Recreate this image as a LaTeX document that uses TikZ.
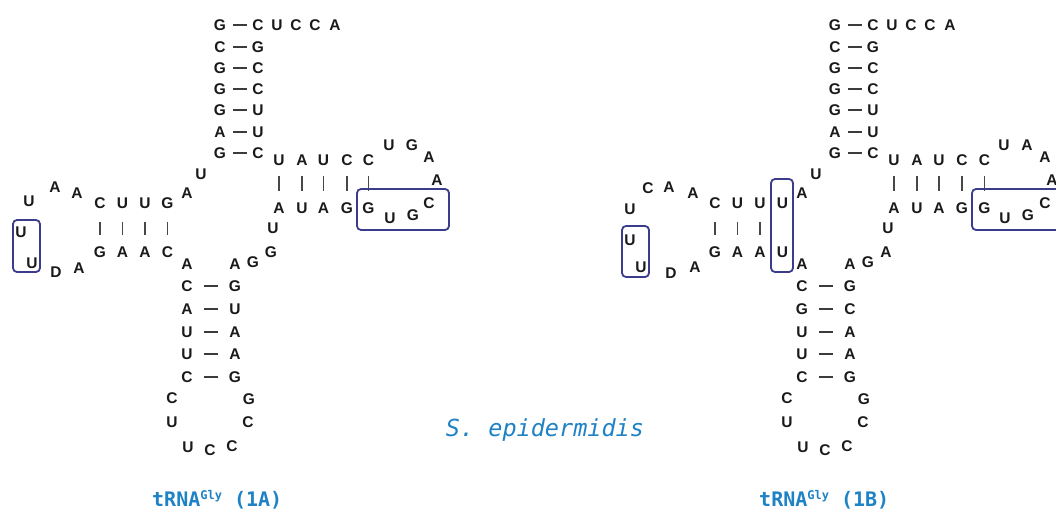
\documentclass[tikz,border=0pt]{standalone}
\usepackage{fontspec}
\newfontfamily\ntfont{Liberation Sans}
\newfontfamily\lblfont{DejaVu Sans Mono}
\definecolor{lblblue}{HTML}{1E82C4}
\definecolor{boxblue}{HTML}{3C3C8C}
\definecolor{ink}{HTML}{1A1A1A}
\begin{document}
\begin{tikzpicture}[x=1pt,y=-1pt,
  nt/.style={inner sep=0pt,text=ink,font=\ntfont\bfseries\fontsize{15.5}{17}\selectfont},
  pairh/.style={draw=ink!85,line width=1.2pt,shorten <=13pt,shorten >=11pt},
  pairac/.style={draw=ink!85,line width=1.2pt,shorten <=16.5pt,shorten >=17.5pt},
  pairv/.style={draw=ink!80,line width=1.1pt,shorten <=16pt,shorten >=17.5pt},
  pairvd/.style={draw=ink!80,line width=1.1pt,shorten <=19pt,shorten >=17pt},
  hbox/.style={draw=boxblue,line width=1.8pt,rounded corners=4pt},
  lbl/.style={inner sep=0pt,text=lblblue,anchor=west}
]
\useasboundingbox (0,0) rectangle (1056,511);
\clip (0,0) rectangle (1056,511);

% ================= both structures: acceptor stem and tail =================
\foreach \p/\o in {a/0,b/615}{
  \foreach \l/\r/\y [count=\i] in {G/C/25,C/G/47,G/C/68,G/C/89,G/U/110,A/U/132,G/C/153}{
    \node[nt] (\p accL\i) at (220+\o,\y) {\l};
    \node[nt] (\p accR\i) at (258+\o,\y) {\r};
    \draw[pairh] (\p accL\i.center) -- (\p accR\i.center);
  }
  \foreach \l/\x [count=\i] in {U/277,C/296,C/315,A/335}{
    \node[nt] (\p tail\i) at (\x+\o,25) {\l};
  }
}

% ================= structure 1A =================
% connector
\node[nt] (acon1) at (201,174) {U};
\node[nt] (acon2) at (187,193) {A};
% D stem
\foreach \t/\b/\x [count=\i] in {C/G/100,U/A/122.5,U/A/145,G/C/167.5}{
  \node[nt] (adT\i) at (\x,203) {\t};
  \node[nt] (adB\i) at (\x,252) {\b};
  \draw[pairvd] (adT\i.center) -- (adB\i.center);
}
% D loop
\foreach \l/\x/\y [count=\i] in {A/77/193,A/55/187,U/29/201,U/21/232,U/32/263,D/56/272,A/79/268}{
  \node[nt] (adl\i) at (\x,\y) {\l};
}
% anticodon stem
\node[nt] (aacU1) at (187,264) {A};
\node[nt] (aacU2) at (235,264) {A};
\foreach \l/\r/\y [count=\i] in {C/G/286,A/U/309,U/A/332,U/A/354,C/G/377}{
  \node[nt] (aacL\i) at (187,\y) {\l};
  \node[nt] (aacR\i) at (235,\y) {\r};
  \draw[pairac] (aacL\i.center) -- (aacR\i.center);
}
% anticodon loop
\foreach \l/\x/\y [count=\i] in {C/172/398,U/172/422,U/188/447,C/210/450,C/232/446,C/248/422,G/249/399}{
  \node[nt] (aal\i) at (\x,\y) {\l};
}
% variable region
\foreach \l/\x/\y [count=\i] in {G/253/262,G/271/252,U/273/228}{
  \node[nt] (avar\i) at (\x,\y) {\l};
}
% T stem
\foreach \t/\b/\x [count=\i] in {U/A/279,A/U/302,U/A/323.5,C/G/347,C/G/368.5}{
  \node[nt] (atT\i) at (\x,160) {\t};
  \node[nt] (atB\i) at (\x,208) {\b};
  \draw[pairv] (atT\i.center) -- (atB\i.center);
}
% T loop
\foreach \l/\x/\y [count=\i] in {U/389/145,G/412/145,A/429/157,A/437/180,C/429/203,G/413/215,U/390/218}{
  \node[nt] (atl\i) at (\x,\y) {\l};
}
% highlight boxes
\draw[hbox] (13,220) rectangle (40,272);
\draw[hbox] (357,189) rectangle (449,230);

% ================= structure 1B =================
\node[nt] (bcon1) at (816,174) {U};
\node[nt] (bcon2) at (802,193) {A};
% D stem
\foreach \t/\b/\x [count=\i] in {C/G/715,U/A/737.5,U/A/760}{
  \node[nt] (bdT\i) at (\x,203) {\t};
  \node[nt] (bdB\i) at (\x,252) {\b};
  \draw[pairvd] (bdT\i.center) -- (bdB\i.center);
}
\node[nt] (bdT4) at (782.5,203) {U};
\node[nt] (bdB4) at (782.5,252) {U};
% D loop
\foreach \l/\x/\y [count=\i] in {A/693/193,A/669/187,C/648/188,U/630/209,U/630/240,U/641/267,D/671/273,A/695/267}{
  \node[nt] (bdl\i) at (\x,\y) {\l};
}
% anticodon stem
\node[nt] (bacU1) at (802,264) {A};
\node[nt] (bacU2) at (850,264) {A};
\foreach \l/\r/\y [count=\i] in {C/G/286,G/C/309,U/A/332,U/A/354,C/G/377}{
  \node[nt] (bacL\i) at (802,\y) {\l};
  \node[nt] (bacR\i) at (850,\y) {\r};
  \draw[pairac] (bacL\i.center) -- (bacR\i.center);
}
% anticodon loop
\foreach \l/\x/\y [count=\i] in {C/787/398,U/787/422,U/803/447,C/825/450,C/847/446,C/863/422,G/864/399}{
  \node[nt] (bal\i) at (\x,\y) {\l};
}
% variable region
\foreach \l/\x/\y [count=\i] in {G/868/262,A/886/252,U/888/228}{
  \node[nt] (bvar\i) at (\x,\y) {\l};
}
% T stem
\foreach \t/\b/\x [count=\i] in {U/A/894,A/U/917,U/A/939,C/G/962,C/G/984.5}{
  \node[nt] (btT\i) at (\x,160) {\t};
  \node[nt] (btB\i) at (\x,208) {\b};
  \draw[pairv] (btT\i.center) -- (btB\i.center);
}
% T loop
\foreach \l/\x/\y [count=\i] in {U/1004/145,A/1027/145,A/1045/157,A/1052/180,C/1045/203,G/1028/215,U/1005/218}{
  \node[nt] (btl\i) at (\x,\y) {\l};
}
% highlight boxes
\draw[hbox] (622,226) rectangle (649,277);
\draw[hbox] (771,179) rectangle (793,272);
\draw[hbox] (972,189) rectangle (1064,230);

% ================= labels =================
\node[lbl,anchor=center,font=\lblfont\itshape\fontsize{23.5}{26}\selectfont] (species) at (545,430) {S. epidermidis};
\node[lbl,font=\lblfont\bfseries\fontsize{20}{24}\selectfont] (lblA) at (152,500) {tRNA\raisebox{7pt}{\fontsize{12}{14}\selectfont Gly}~(1A)};
\node[lbl,font=\lblfont\bfseries\fontsize{20}{24}\selectfont] (lblB) at (759,500) {tRNA\raisebox{7pt}{\fontsize{12}{14}\selectfont Gly}~(1B)};
\end{tikzpicture}
\end{document}
